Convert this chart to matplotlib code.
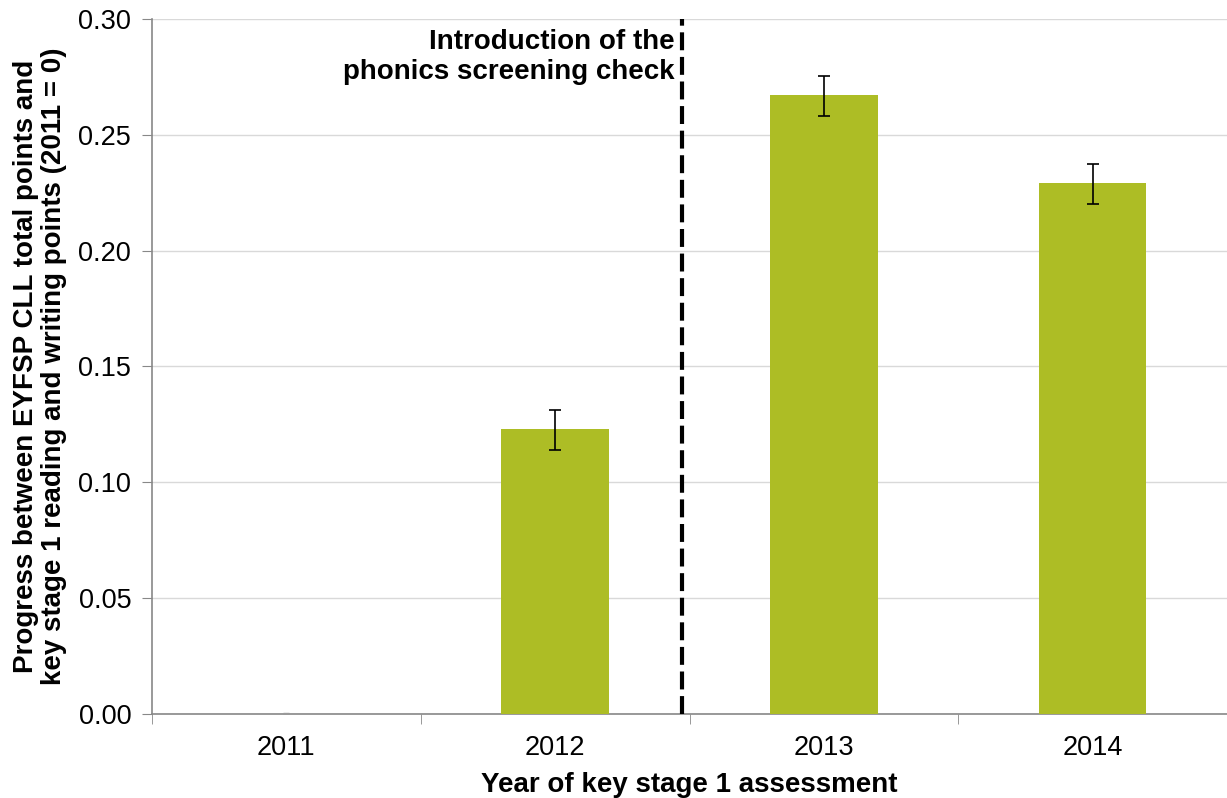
import matplotlib
matplotlib.use("Agg")
import matplotlib.pyplot as plt
import numpy as np

plt.rcParams['font.family'] = ['Liberation Sans', 'DejaVu Sans']

years = ["2011", "2012", "2013", "2014"]
values = [0.0, 0.123, 0.267, 0.229]
err_low = [0.0003, 0.009, 0.009, 0.0087]
err_high = [0.0003, 0.0082, 0.0085, 0.0083]
yticks = [0.00, 0.05, 0.10, 0.15, 0.20, 0.25, 0.30]

fig = plt.figure(figsize=(12.27, 7.98), dpi=100)
ax = fig.add_axes([152/1227, 84/798, 1075/1227, 695/798])

x = np.arange(len(years))
ax.bar(x, values, width=0.4, color="#ADBD25", zorder=3)
ax.errorbar(x[1:], values[1:], yerr=[err_low[1:], err_high[1:]], fmt="none", ecolor="black",
            elinewidth=1.2, capsize=4, capthick=1.2, zorder=4)
ax.errorbar(x[:1], values[:1], yerr=[err_low[:1], err_high[:1]], fmt="none", ecolor="#999999",
            elinewidth=1.0, capsize=2.5, capthick=1.0, zorder=4)

ax.set_xlim(-0.5, 3.5)
ax.set_ylim(0, 0.30)
ax.set_yticks(yticks)
ax.set_yticklabels([f"{t:.2f}" for t in yticks], fontsize=19.5)
ax.set_xticks(x)
ax.set_xticklabels(years, fontsize=19.5)
ax.set_xticks(np.arange(-0.5, 4.0, 1.0), minor=True)
ax.tick_params(axis="x", which="major", length=0, pad=15)
ax.tick_params(axis="x", which="minor", length=7, color="#888888", direction="out")
ax.tick_params(axis="y", length=7, color="#888888", direction="out", pad=8)

ax.grid(axis="y", color="#d9d9d9", linewidth=1, zorder=0)
for s in ["top", "right"]:
    ax.spines[s].set_visible(False)
for s in ["left", "bottom"]:
    ax.spines[s].set_color("#888888")
    ax.spines[s].set_linewidth(1.2)

ax.axvline(1.472, color="black", linestyle=(0, (4.3, 1.6)), linewidth=3, zorder=5)
ax.text(1.445, 0.2957, "Introduction of the\nphonics screening check", ha="right", va="top",
        fontsize=20, fontweight="bold", linespacing=1.22)

ax.set_xlabel("Year of key stage 1 assessment", fontsize=20, fontweight="bold", labelpad=8)
ax.set_ylabel("Progress between EYFSP CLL total points and\nkey stage 1 reading and writing points (2011 = 0)",
              fontsize=20, fontweight="bold", labelpad=8, linespacing=1.1)

fig.savefig("out.png", dpi=100)
